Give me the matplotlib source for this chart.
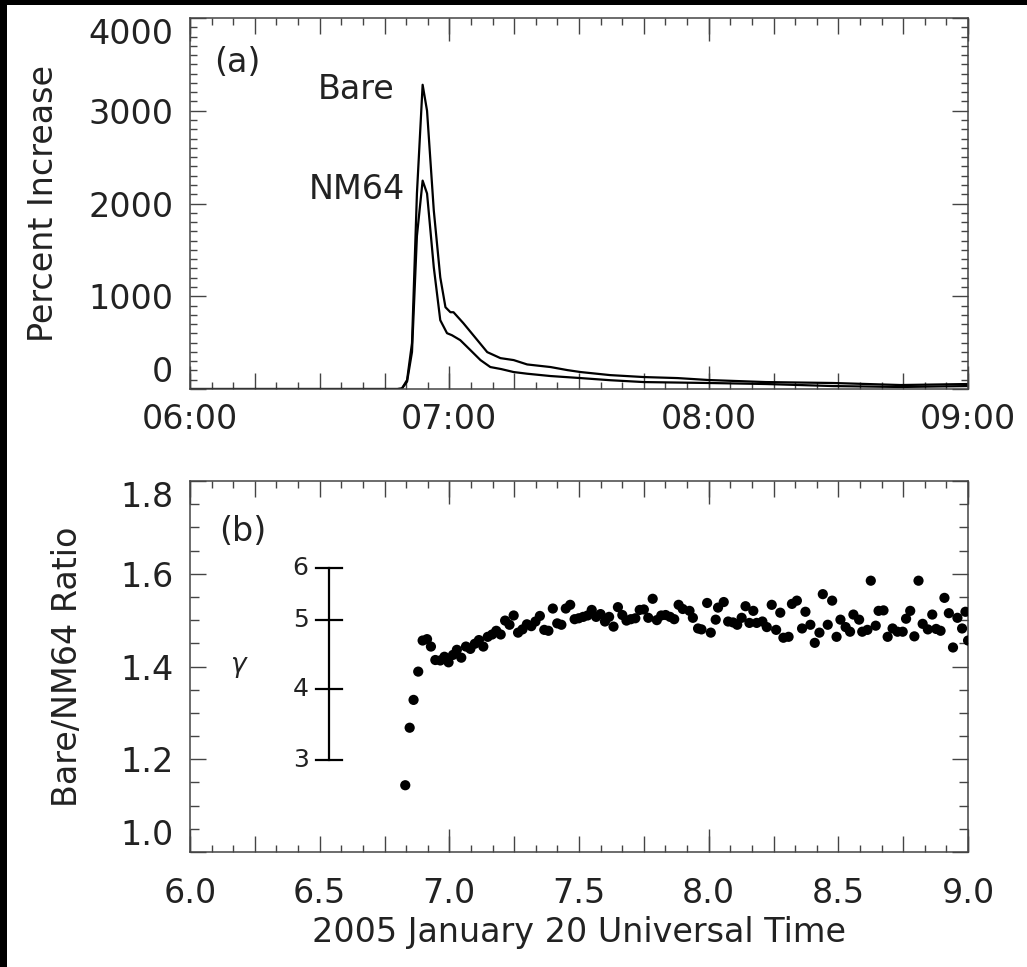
import numpy as np
import matplotlib
matplotlib.use("Agg")
import matplotlib.pyplot as plt
from matplotlib.patches import Rectangle
from matplotlib.ticker import FixedLocator, FuncFormatter

# Panel (a): percent increase, hours UT
bare_t = [6.00, 6.50, 6.80, 6.817, 6.837, 6.856, 6.875, 6.897, 6.914, 6.940, 6.965,
          6.985, 7.004, 7.016, 7.054, 7.108, 7.146, 7.197, 7.248, 7.300, 7.390,
          7.455, 7.506, 7.620, 7.750, 7.880, 8.000, 8.220, 8.480, 8.740, 9.000]
bare_v = [0, 0, 0, 5, 97, 495, 2108, 3280, 3000, 1925, 1204,
          882, 828, 828, 710, 527, 398, 333, 312, 265, 237,
          204, 183, 150, 129, 118, 97, 75, 65, 43, 54]

nm64_t = [6.00, 6.50, 6.80, 6.817, 6.837, 6.856, 6.875, 6.897, 6.914, 6.940, 6.965,
          6.991, 7.010, 7.042, 7.081, 7.120, 7.158, 7.200, 7.248, 7.300, 7.390,
          7.506, 7.620, 7.750, 8.000, 8.220, 8.480, 8.740, 9.000]
nm64_v = [0, 0, 0, 5, 80, 400, 1650, 2247, 2108, 1312, 742,
          602, 580, 527, 420, 312, 237, 215, 183, 165, 140,
          118, 95, 75, 65, 54, 32, 22, 32]

# Panel (b): Bare/NM64 ratio
ratio_t = [6.830, 6.847, 6.862, 6.880, 6.897, 6.914, 6.929, 6.946, 6.965, 6.981,
           6.997, 7.014, 7.029, 7.046, 7.064, 7.081, 7.098, 7.114, 7.131, 7.148,
           7.165, 7.181, 7.198, 7.215, 7.232, 7.248, 7.265, 7.282, 7.299, 7.316,
           7.332, 7.349, 7.366, 7.382, 7.399, 7.416, 7.432, 7.449, 7.466, 7.483,
           7.499, 7.516, 7.533, 7.549, 7.566, 7.583, 7.600, 7.616, 7.633, 7.650,
           7.667, 7.683, 7.700, 7.717, 7.734, 7.750, 7.767, 7.784, 7.800, 7.817,
           7.834, 7.851, 7.867, 7.884, 7.900, 7.926, 7.939, 7.959, 7.972, 7.994,
           8.008, 8.027, 8.036, 8.058, 8.075, 8.094, 8.110, 8.127, 8.142, 8.157,
           8.172, 8.185, 8.207, 8.224, 8.243, 8.260, 8.276, 8.288, 8.308, 8.321,
           8.340, 8.360, 8.373, 8.392, 8.409, 8.427, 8.440, 8.459, 8.476, 8.493,
           8.508, 8.528, 8.545, 8.558, 8.580, 8.592, 8.612, 8.625, 8.644, 8.655,
           8.674, 8.690, 8.709, 8.728, 8.748, 8.761, 8.777, 8.793, 8.809, 8.825,
           8.845, 8.862, 8.877, 8.894, 8.909, 8.926, 8.942, 8.959, 8.977, 8.990,
           9.000]
ratio_v = [1.144, 1.268, 1.328, 1.389, 1.456, 1.459, 1.443, 1.414, 1.413, 1.421,
           1.409, 1.425, 1.436, 1.419, 1.443, 1.438, 1.449, 1.457, 1.443, 1.464,
           1.469, 1.477, 1.469, 1.499, 1.490, 1.510, 1.473, 1.480, 1.491, 1.487,
           1.497, 1.509, 1.479, 1.477, 1.525, 1.493, 1.490, 1.525, 1.533, 1.502,
           1.504, 1.507, 1.510, 1.522, 1.507, 1.513, 1.497, 1.507, 1.486, 1.528,
           1.511, 1.499, 1.502, 1.504, 1.522, 1.523, 1.505, 1.546, 1.500, 1.510,
           1.511, 1.507, 1.502, 1.533, 1.524, 1.520, 1.505, 1.482, 1.480, 1.537,
           1.473, 1.501, 1.527, 1.539, 1.497, 1.495, 1.490, 1.505, 1.530, 1.494,
           1.520, 1.494, 1.497, 1.485, 1.533, 1.479, 1.516, 1.462, 1.464, 1.535,
           1.542, 1.482, 1.518, 1.490, 1.451, 1.473, 1.556, 1.490, 1.542, 1.464,
           1.501, 1.485, 1.475, 1.512, 1.501, 1.475, 1.479, 1.585, 1.488, 1.520,
           1.521, 1.464, 1.482, 1.475, 1.475, 1.503, 1.520, 1.465, 1.585, 1.492,
           1.480, 1.512, 1.481, 1.477, 1.548, 1.515, 1.441, 1.505, 1.482, 1.518,
           1.456]

# gamma scale drawn inside panel (b)
gamma_labels = [3, 4, 5, 6]
gamma_ratio = [1.198, 1.351, 1.500, 1.612]

hour_ticks = [6.0, 7.0, 8.0, 9.0]
a_labels = {6.0: "06:00", 7.0: "07:00", 8.0: "08:00", 9.0: "09:00"}
b_labels = {6.0: "6.0", 6.5: "6.5", 7.0: "7.0", 7.5: "7.5",
            8.0: "8.0", 8.5: "8.5", 9.0: "9.0"}

FS = 24
INK = "#222222"
AXC = "#444444"
plt.rcParams["font.family"] = ["DejaVu Sans"]


def style_time_axis(ax, labels, pad):
    quarter = np.arange(6.0, 9.001, 0.25)
    five_min = np.arange(6.0, 9.001, 1 / 12)
    ax.xaxis.set_major_locator(FixedLocator(quarter))
    ax.xaxis.set_minor_locator(FixedLocator(five_min))
    ax.xaxis.set_major_formatter(FuncFormatter(
        lambda v, p: labels.get(round(v, 2), "")))
    ax.tick_params(axis="x", which="major", direction="in", length=11.5,
                   width=1.0, color=AXC, top=True, pad=pad, labelsize=FS,
                   labelcolor=INK)
    ax.tick_params(axis="x", which="minor", direction="in", length=5,
                   width=1.0, color=AXC, top=True)
    # longer ticks at the full hours
    for side in ("bottom", "top"):
        sec = ax.secondary_xaxis(side)
        sec.set_xticks(hour_ticks)
        sec.tick_params(direction="in", length=16.5, width=1.0, color=AXC,
                        labelbottom=False, labeltop=False)
        for sp in sec.spines.values():
            sp.set_visible(False)
    for sp in ax.spines.values():
        sp.set_color(AXC)
        sp.set_linewidth(1.1)
    ax.set_xlim(6.0, 9.0)


fig = plt.figure(figsize=(10.27, 9.67), dpi=100)
fig.patch.set_facecolor("black")
fig.patches.append(Rectangle((7 / 1027, 0), 1, 1 - 5 / 967,
                             transform=fig.transFigure, facecolor="white",
                             edgecolor="none", zorder=-10))

ax1 = fig.add_axes([0.185, 0.5977, 0.7576, 0.3837])
ax2 = fig.add_axes([0.185, 0.1189, 0.7576, 0.3837])

# ---- panel (a)
ax1.plot(bare_t, bare_v, color="black", lw=1.6)
ax1.plot(nm64_t, nm64_v, color="black", lw=1.6)
ax1.set_ylim(0, 4000)
ax1.set_yticks([0, 1000, 2000, 3000, 4000])
ax1.yaxis.set_minor_locator(FixedLocator(np.arange(0, 4001, 100)))
ax1.tick_params(axis="y", which="major", direction="in", length=11.5, width=1.0,
                color=AXC, right=True, pad=12, labelsize=FS, labelcolor=INK)
ax1.tick_params(axis="y", which="minor", direction="in", length=5, width=1.0,
                color=AXC, right=True)
style_time_axis(ax1, a_labels, pad=10)
ax1.set_ylabel("Percent Increase", fontsize=FS, color=INK, labelpad=20)
ax1.text(0.061, 0.879, "(a)", transform=ax1.transAxes, fontsize=FS,
         color=INK, ha="center", va="center")
ax1.text(6.641, 3224, "Bare", fontsize=FS, color=INK, ha="center", va="center")
ax1.text(6.645, 2146, "NM64", fontsize=FS, color=INK, ha="center", va="center")

# ---- panel (b)
ax2.scatter(ratio_t, ratio_v, s=54, color="black", edgecolors="none", zorder=3)
ax2.set_ylim(1.0, 1.8)
ax2.set_yticks([1.0, 1.2, 1.4, 1.6, 1.8])
ax2.set_yticklabels(["1.0", "1.2", "1.4", "1.6", "1.8"])
ax2.yaxis.set_minor_locator(FixedLocator(np.arange(1.0, 1.801, 0.05)))
ax2.tick_params(axis="y", which="major", direction="in", length=11.5, width=1.0,
                color=AXC, right=True, pad=12, labelsize=FS, labelcolor=INK)
ax2.tick_params(axis="y", which="minor", direction="in", length=6.5, width=1.0,
                color=AXC, right=True)
style_time_axis(ax2, b_labels, pad=18)
ax2.set_ylabel("Bare/NM64 Ratio", fontsize=FS, color=INK, labelpad=26)
ax2.set_xlabel("2005 January 20 Universal Time", fontsize=FS, color=INK,
               labelpad=4)
ax2.text(0.068, 0.865, "(b)", transform=ax2.transAxes, fontsize=FS,
         color=INK, ha="center", va="center")

# gamma scale bar
gx = 6.537
ax2.plot([gx, gx], [gamma_ratio[0], gamma_ratio[-1]], color="black", lw=1.6)
for g, r in zip(gamma_labels, gamma_ratio):
    ax2.plot([gx - 0.05, gx + 0.05], [r, r], color="black", lw=1.6)
    ax2.text(gx - 0.11, r, str(g), fontsize=18, color=INK,
             ha="center", va="center")
ax2.text(6.19, 1.40, r"$\gamma$", fontsize=19, color=INK,
         ha="center", va="center")

# pull the end labels of the y axes inside the frame, as in the original
for ax in (ax1, ax2):
    labs = ax.get_yticklabels()
    labs[0].set_va("bottom")
    labs[-1].set_va("top")

fig.savefig("out.png", dpi=100, facecolor=fig.get_facecolor())
